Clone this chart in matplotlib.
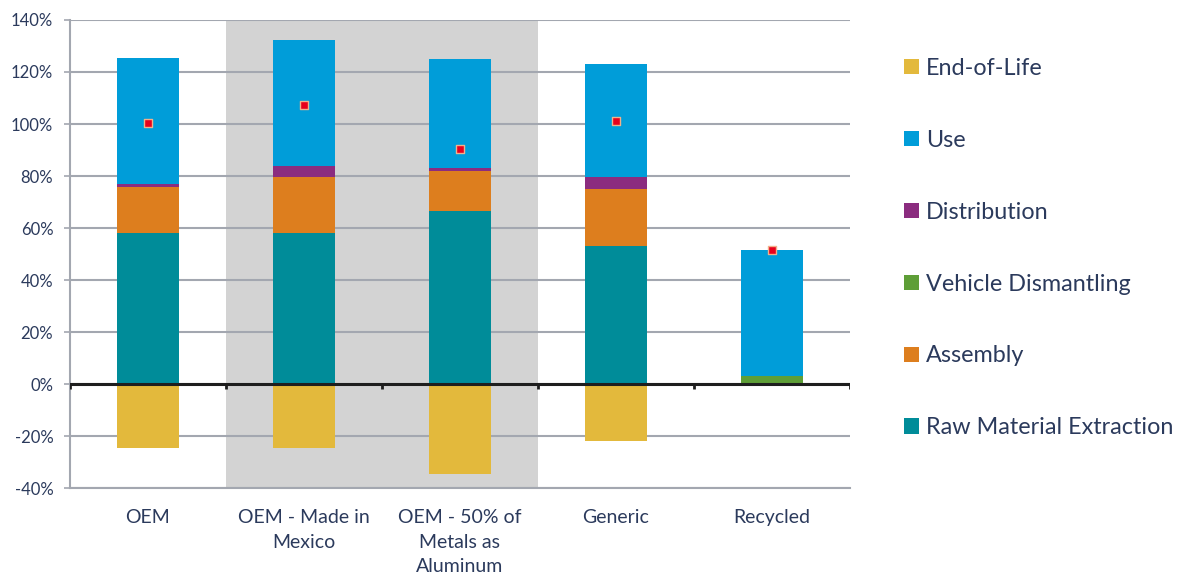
import matplotlib.pyplot as plt
from matplotlib.patches import Patch
from matplotlib.ticker import FuncFormatter
import numpy as np

plt.rcParams["font.family"] = ["Lato", "DejaVu Sans"]

SCENARIOS = ["OEM", "OEM - Made in\nMexico", "OEM - 50% of\nMetals as\nAluminum", "Generic", "Recycled"]

# Life-cycle stages, in percent of the OEM baseline
RAW_MATERIAL = [58.2, 58.2, 66.7, 53.2, 0.0]
ASSEMBLY = [17.4, 21.5, 15.3, 21.7, 0.0]
VEHICLE_DISMANTLING = [0.0, 0.0, 0.0, 0.0, 3.0]
DISTRIBUTION = [1.3, 4.1, 1.1, 4.8, 0.0]
USE = [48.4, 48.5, 42.0, 43.4, 48.5]
END_OF_LIFE = [-24.5, -24.5, -34.4, -21.8, 0.0]
NET_TOTAL = [100.4, 107.4, 90.5, 101.2, 51.5]

STAGES = [
    ("Raw Material Extraction", RAW_MATERIAL, "#008C99"),
    ("Assembly", ASSEMBLY, "#DD7E1E"),
    ("Vehicle Dismantling", VEHICLE_DISMANTLING, "#5E9E37"),
    ("Distribution", DISTRIBUTION, "#8B2C7F"),
    ("Use", USE, "#009DD9"),
]
EOL_COLOR = "#E3B93C"
TEXT_COLOR = "#2B3A5C"
GRID_COLOR = "#A3A7B0"

fig = plt.figure(figsize=(11.82, 5.79), dpi=100)
ax = fig.add_axes([0.0592, 0.157, 0.6599, 0.8085])

x = np.arange(len(SCENARIOS))
width = 0.4

# shaded band behind the two OEM variants
ax.axvspan(0.5, 2.5, color="#D3D3D3", zorder=0, lw=0)

bottom = np.zeros(len(SCENARIOS))
for name, values, color in STAGES:
    values = np.array(values)
    ax.bar(x, values, width, bottom=bottom, color=color, zorder=3, lw=0)
    bottom += values
ax.bar(x, END_OF_LIFE, width, color=EOL_COLOR, zorder=3, lw=0)

ax.scatter(x, NET_TOTAL, marker="s", s=40, color="#E8001C", edgecolors="#F2B08A",
           linewidths=1.0, zorder=5)

ax.set_xlim(-0.5, len(SCENARIOS) - 0.5)
ax.set_ylim(-40, 140)
ax.set_yticks(np.arange(-40, 141, 20))
ax.yaxis.set_major_formatter(FuncFormatter(lambda v, _: f"{v:.0f}%"))
ax.grid(axis="y", color=GRID_COLOR, lw=1.5, zorder=1)
ax.set_axisbelow(True)

ax.set_xticks(x)
ax.set_xticklabels(SCENARIOS, linespacing=1.55)
ax.tick_params(axis="x", length=0, pad=15, labelsize=14, colors=TEXT_COLOR)
ax.tick_params(axis="y", length=4, width=1.2, color=GRID_COLOR, pad=8,
               labelsize=12, colors=TEXT_COLOR)
for label in ax.get_xticklabels() + ax.get_yticklabels():
    label.set_color(TEXT_COLOR)

for side in ("top", "right"):
    ax.spines[side].set_visible(False)
ax.spines["left"].set_color(GRID_COLOR)
ax.spines["left"].set_linewidth(1.5)
ax.spines["bottom"].set_color(GRID_COLOR)
ax.spines["bottom"].set_linewidth(1.5)

# zero line with category separator ticks
ax.axhline(0, color="#1E1E1E", lw=2.2, zorder=4)
ax.vlines(np.arange(len(SCENARIOS) + 1) - 0.5, -1.8, 0, color="#1E1E1E", lw=2, zorder=4)

order = ["End-of-Life", "Use", "Distribution", "Vehicle Dismantling", "Assembly",
         "Raw Material Extraction"]
colors = {name: color for name, _, color in STAGES}
colors["End-of-Life"] = EOL_COLOR
legend_handles = [Patch(facecolor=colors[n], edgecolor="none") for n in order]
leg = fig.legend(legend_handles, order, loc="upper left", bbox_to_anchor=(0.757, 0.916),
                 frameon=False, fontsize=16.8, labelspacing=2.18, handlelength=0.64,
                 handleheight=0.64, handletextpad=0.3, borderaxespad=0)
for t in leg.get_texts():
    t.set_color(TEXT_COLOR)

fig.savefig("out.png", dpi=100)
